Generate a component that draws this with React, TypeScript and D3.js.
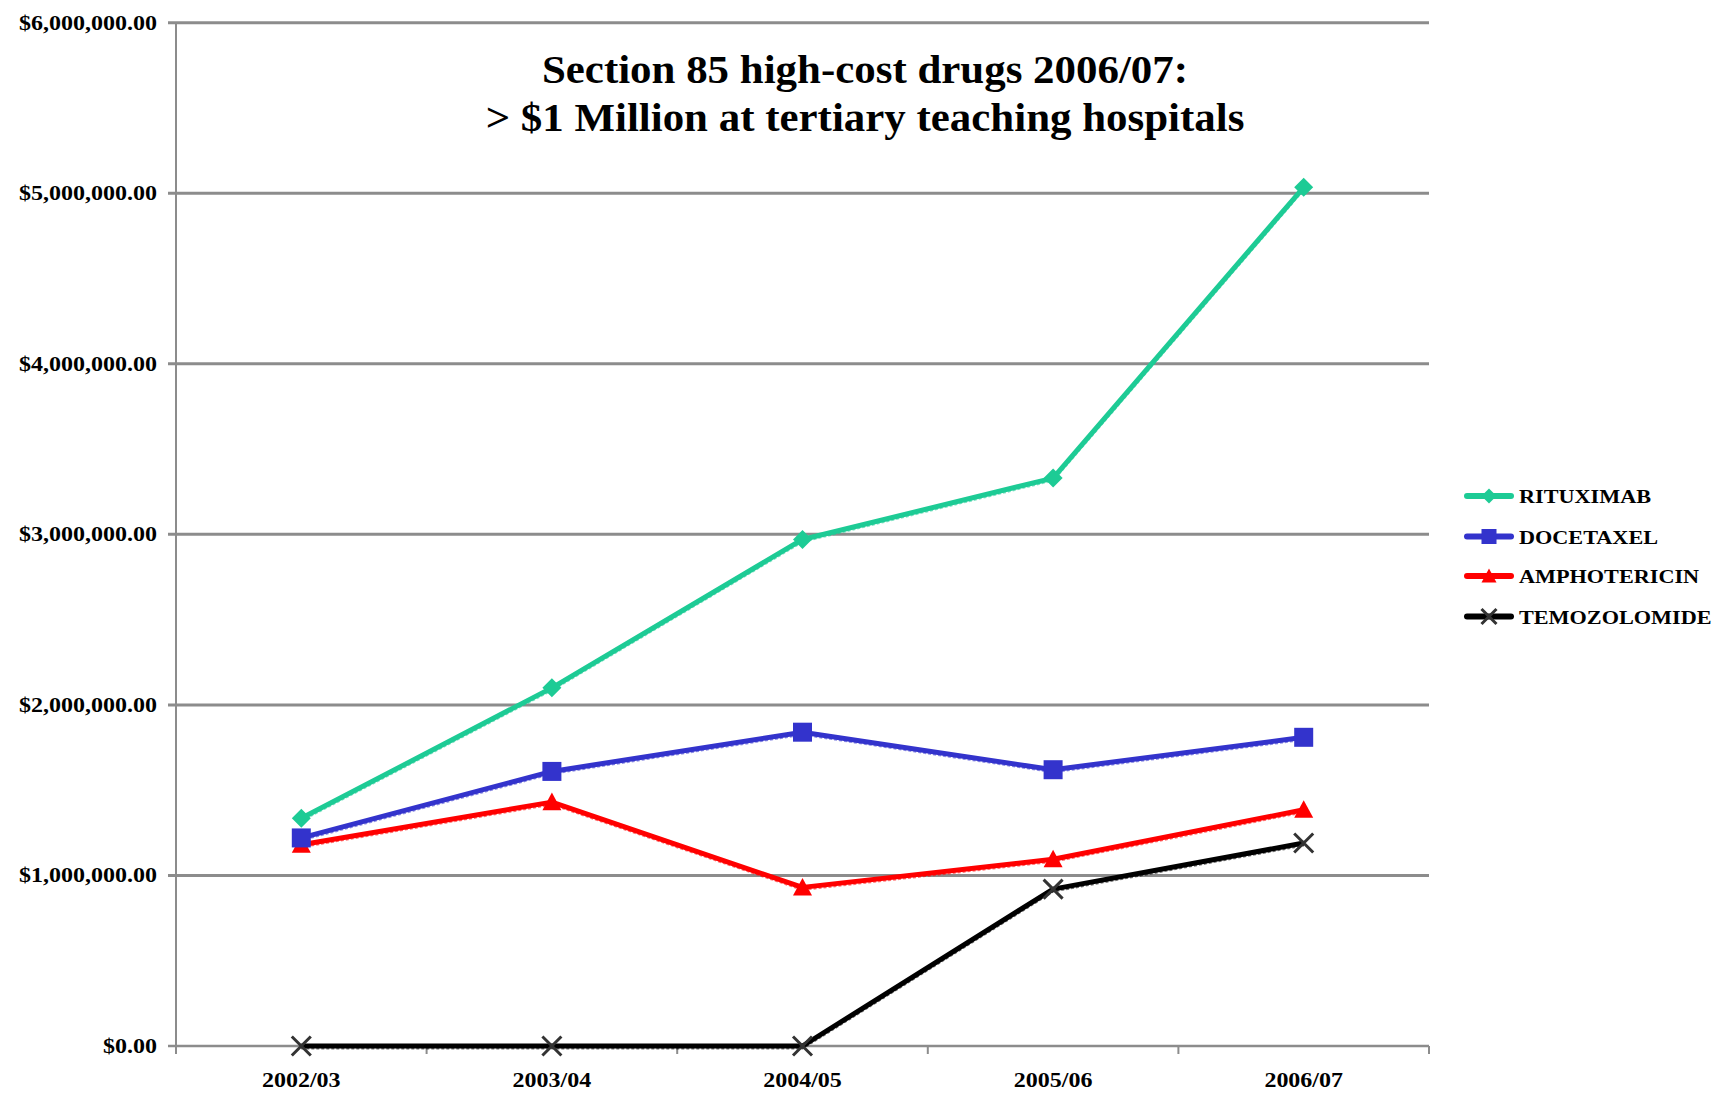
import React from "react";
import * as d3 from "d3";

const categories = ["2002/03", "2003/04", "2004/05", "2005/06", "2006/07"];
const seriesNames = ["RITUXIMAB", "DOCETAXEL", "AMPHOTERICIN", "TEMOZOLOMIDE"];
const rituximab = [1335000, 2100000, 2970000, 3330000, 5035000];
const docetaxel = [1220000, 1610000, 1840000, 1620000, 1810000];
const amphotericin = [1180000, 1430000, 930000, 1095000, 1385000];
const temozolomide = [0, 0, 0, 920000, 1190000];
const seriesColors = ["#1DCB95", "#3333CC", "#FF0000", "#000000"];
const markerKinds = ["diamond", "square", "triangle", "x"];
const yTicks = [0, 1000000, 2000000, 3000000, 4000000, 5000000, 6000000];
const titleLines = ["Section 85 high-cost drugs 2006/07:", "> $1 Million at tertiary teaching hospitals"];

const W = 1717;
const H = 1093;
const margin = { left: 176, right: 288, top: 22.7, bottom: 47 };
const FONT = "'Liberation Serif', 'Times New Roman', serif";

function Marker({ kind, x, y, color, s }: { kind: string; x: number; y: number; color: string; s: number }) {
  const h = s / 2;
  if (kind === "diamond") {
    return <path d={`M${x},${y - h}L${x + h},${y}L${x},${y + h}L${x - h},${y}Z`} fill={color} />;
  }
  if (kind === "square") {
    return <rect x={x - h} y={y - h} width={s} height={s} fill={color} />;
  }
  if (kind === "triangle") {
    return <path d={`M${x},${y - h}L${x + h},${y + h * 0.85}L${x - h},${y + h * 0.85}Z`} fill={color} />;
  }
  return (
    <path
      d={`M${x - h},${y - h}L${x + h},${y + h}M${x + h},${y - h}L${x - h},${y + h}`}
      stroke="#333"
      strokeWidth={3}
      fill="none"
    />
  );
}

export default function App() {
  const data = [rituximab, docetaxel, amphotericin, temozolomide];
  const x = d3
    .scaleBand<string>()
    .domain(categories)
    .range([margin.left, W - margin.right])
    .padding(0);
  const y = d3
    .scaleLinear()
    .domain([0, 6000000])
    .range([H - margin.bottom, margin.top]);
  const cx = (c: string) => (x(c) as number) + x.bandwidth() / 2;
  const fmt = (v: number) => "$" + d3.format(",.2f")(v);
  const line = d3
    .line<number>()
    .x((_, i) => cx(categories[i]))
    .y((d) => y(d));
  const x0 = margin.left;
  const x1 = x.range()[1];
  const yBottom = y(0);
  const bounds = [...categories.map((c) => x(c) as number), x1];
  const drawOrder = [3, 2, 1, 0];
  const legendY = [496, 536.5, 576, 616.5];

  return (
    <svg width={W} height={H} style={{ display: "block", position: "absolute", left: 0, top: 0, background: "#fff" }}>
      {yTicks.map((t) => (
        <line key={"g" + t} x1={x0 - 8} x2={x1} y1={y(t)} y2={y(t)} stroke="#8c8c8c" strokeWidth={t === 0 ? 2.5 : 3} />
      ))}
      <line x1={x0} x2={x0} y1={y(6000000)} y2={yBottom + 8} stroke="#8c8c8c" strokeWidth={2} />
      {bounds.map((b, i) => (
        <line key={"xt" + i} x1={b} x2={b} y1={yBottom} y2={yBottom + 8} stroke="#8c8c8c" strokeWidth={2} />
      ))}
      {yTicks.map((t) => (
        <text
          key={"yl" + t}
          transform={`translate(157,${y(t) + 7}) scale(1.2,1)`}
          textAnchor="end"
          fontFamily={FONT}
          fontWeight="bold"
          fontSize={20}
          fill="#000"
        >
          {fmt(t)}
        </text>
      ))}
      {categories.map((c) => (
        <text
          key={"xl" + c}
          transform={`translate(${cx(c)},${yBottom + 41}) scale(1.2,1)`}
          textAnchor="middle"
          fontFamily={FONT}
          fontWeight="bold"
          fontSize={20}
          fill="#000"
        >
          {c}
        </text>
      ))}
      {titleLines.map((t, i) => (
        <text
          key={"t" + i}
          transform={`translate(865,${83 + i * 48}) scale(1.06,1)`}
          textAnchor="middle"
          fontFamily={FONT}
          fontWeight="bold"
          fontSize={40.5}
          fill="#000"
        >
          {t}
        </text>
      ))}
      {drawOrder.map((si) => (
        <g key={"s" + si}>
          <path
            d={line(data[si]) as string}
            fill="none"
            stroke={seriesColors[si]}
            strokeOpacity={0.55}
            strokeWidth={3}
            strokeDasharray="3,2"
            transform="translate(0,2)"
          />
          <path d={line(data[si]) as string} fill="none" stroke={seriesColors[si]} strokeWidth={5} strokeLinejoin="round" />
          {data[si].map((v, i) => (
            <Marker key={i} kind={markerKinds[si]} x={cx(categories[i])} y={y(v)} color={seriesColors[si]} s={19} />
          ))}
        </g>
      ))}
      {seriesNames.map((n, i) => (
        <g key={"l" + n}>
          <line x1={1467} x2={1511} y1={legendY[i]} y2={legendY[i]} stroke={seriesColors[i]} strokeWidth={6} strokeLinecap="round" />
          <Marker kind={markerKinds[i]} x={1489} y={legendY[i]} color={seriesColors[i]} s={15} />
          <text
            transform={`translate(1519,${legendY[i] + 7}) scale(1.17,1)`}
            fontFamily={FONT}
            fontWeight="bold"
            fontSize={19}
            fill="#000"
          >
            {n}
          </text>
        </g>
      ))}
    </svg>
  );
}
